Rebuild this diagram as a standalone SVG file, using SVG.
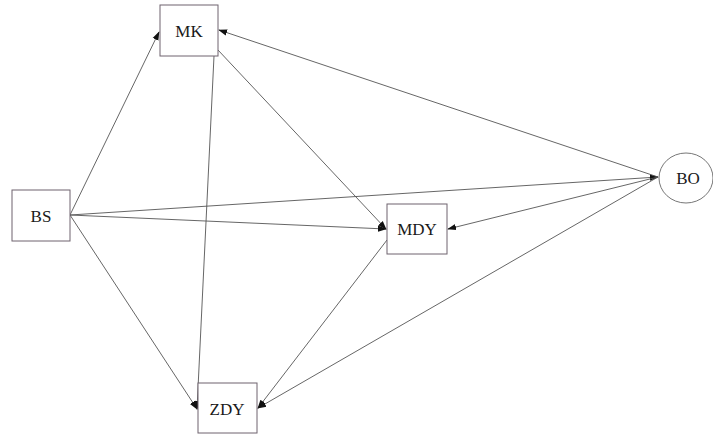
<svg xmlns="http://www.w3.org/2000/svg" width="713" height="436" viewBox="0 0 713 436">
<style>
.box{fill:#fff;stroke:#6e636e;stroke-width:1}
.lbl{font-family:"Liberation Serif",serif;font-size:17px;fill:#1a1a1a;text-anchor:middle;dominant-baseline:central}
.e{stroke:#555;stroke-width:0.9;fill:none;marker-end:url(#ah)}
</style>
<defs>
<marker id="ah" viewBox="0 0 10 10" refX="9" refY="5" markerWidth="9" markerHeight="9" markerUnits="userSpaceOnUse" orient="auto">
<path d="M0,1.5 L10,5 L0,8.5 z" fill="#111"/>
</marker>
</defs>
<rect width="713" height="436" fill="#fff"/>
<g id="edges">
<line class="e" x1="70" y1="215" x2="159" y2="32"/>
<line class="e" x1="70" y1="215" x2="386" y2="229"/>
<line class="e" x1="70" y1="215" x2="197" y2="409"/>
<line class="e" x1="70" y1="215" x2="658" y2="177"/>
<line class="e" x1="218" y1="50" x2="386" y2="229"/>
<line class="e" x1="214" y1="56" x2="197" y2="409"/>
<line class="e" x1="387" y1="240" x2="258" y2="408"/>
<line class="e" x1="658" y1="177" x2="219" y2="30"/>
<line class="e" x1="658" y1="177" x2="448" y2="229"/>
<line class="e" x1="658" y1="177" x2="258" y2="408"/>
</g>
<g id="MK"><rect class="box" x="160" y="5" width="58" height="51"/><text class="lbl" x="189" y="31">MK</text></g>
<g id="BS"><rect class="box" x="12" y="190" width="58" height="51"/><text class="lbl" x="41" y="216">BS</text></g>
<g id="MDY"><rect class="box" x="387" y="204" width="60" height="50"/><text class="lbl" x="417" y="229">MDY</text></g>
<g id="ZDY"><rect class="box" x="198" y="383" width="59" height="50"/><text class="lbl" x="227" y="409">ZDY</text></g>
<g id="BO"><ellipse cx="686" cy="178" rx="27" ry="25" fill="#fff" stroke="#777"/><text class="lbl" x="688" y="178">BO</text></g>
</svg>
